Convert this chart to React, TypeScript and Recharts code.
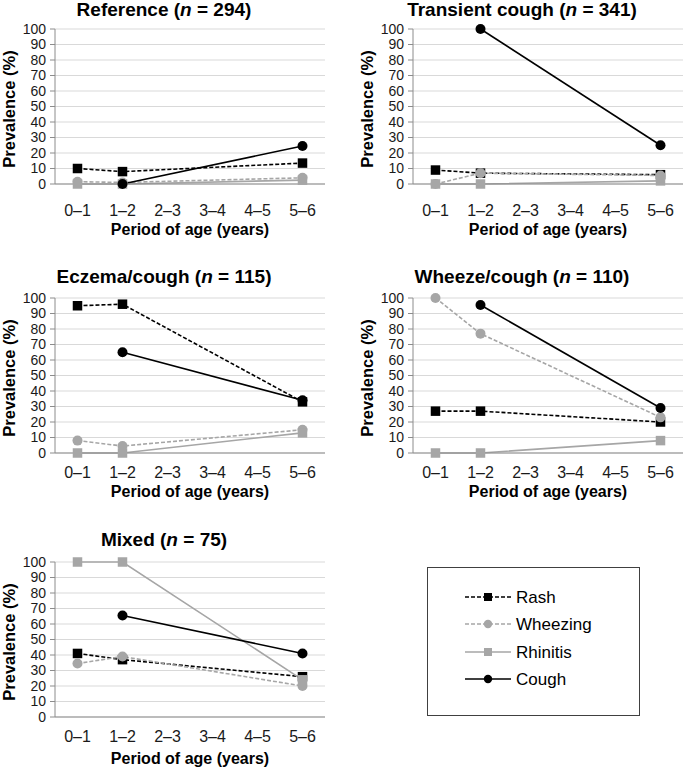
import React from 'react';
import { LineChart, Line, XAxis, YAxis, CartesianGrid } from 'recharts';

const categories = ['0–1', '1–2', '2–3', '3–4', '4–5', '5–6'];
const yTicks = [0, 10, 20, 30, 40, 50, 60, 70, 80, 90, 100];
const seriesNames = ['Rash', 'Wheezing', 'Rhinitis', 'Cough'];

const panelTitles = ['Reference', 'Transient cough', 'Eczema/cough', 'Wheeze/cough', 'Mixed'];
const panelN = [294, 341, 115, 110, 75];

const referenceRash = [10, 8, null, null, null, 13.5];
const referenceWheezing = [1.5, 1, null, null, null, 4];
const referenceRhinitis = [0, 0, null, null, null, 2.5];
const referenceCough = [null, 0, null, null, null, 24.5];

const transientRash = [9, 7, null, null, null, 6];
const transientWheezing = [0, 7, null, null, null, 5.5];
const transientRhinitis = [0, 0, null, null, null, 2];
const transientCough = [null, 100, null, null, null, 25];

const eczemaRash = [95, 96, null, null, null, 33];
const eczemaWheezing = [8, 4.5, null, null, null, 15];
const eczemaRhinitis = [0, 0, null, null, null, 13];
const eczemaCough = [null, 65, null, null, null, 34];

const wheezeRash = [27, 27, null, null, null, 20];
const wheezeWheezing = [100, 77, null, null, null, 23];
const wheezeRhinitis = [0, 0, null, null, null, 8];
const wheezeCough = [null, 95.5, null, null, null, 29];

const mixedRash = [41, 37, null, null, null, 26];
const mixedWheezing = [34.5, 39, null, null, null, 20];
const mixedRhinitis = [100, 100, null, null, null, 24];
const mixedCough = [null, 65.5, null, null, null, 41];

const BLACK = '#000000';
const GRAY = '#a6a6a6';
const AXIS = '#8c8c8c';
const GRID = '#d9d9d9';
const FONT = '"Liberation Sans", Arial, sans-serif';

const seriesStyles = [
  { key: 'rash', color: BLACK, dash: '4 2', shape: 'square' },
  { key: 'wheezing', color: GRAY, dash: '4 2', shape: 'circle' },
  { key: 'rhinitis', color: GRAY, dash: undefined, shape: 'square' },
  { key: 'cough', color: BLACK, dash: undefined, shape: 'circle' },
];

const makeDot = (color: string, shape: string) => (props: any) => {
  const { cx, cy, value, index } = props;
  if (cx == null || cy == null || value == null || Number.isNaN(cy)) {
    return <g key={`e${index}`} />;
  }
  if (shape === 'square') {
    return <rect key={`d${index}`} x={cx - 4.75} y={cy - 4.75} width={9.5} height={9.5} fill={color} />;
  }
  return <circle key={`d${index}`} cx={cx} cy={cy} r={5} fill={color} />;
};

type PanelProps = {
  idx: number;
  series: (number | null)[][];
  left: number;
  top: number;
  width: number;
  rightMargin: number;
  titleTop: number;
  xTickMargin: number;
  xTitleOffset: number;
};

const PLOT_TOP = 29;
const PLOT_H = 155;
const AXIS_W = 55;

function Panel({ idx, series, left, top, width, rightMargin, titleTop, xTickMargin, xTitleOffset }: PanelProps) {
  const data = categories.map((c, i) => ({
    x: i + 0.5,
    rash: series[0][i],
    wheezing: series[1][i],
    rhinitis: series[2][i],
    cough: series[3][i],
  }));
  const height = 237;
  const plotW = width - AXIS_W - rightMargin;
  return (
    <div style={{ position: 'absolute', left, top, width, height }}>
      <div
        style={{
          position: 'absolute',
          left: 164 - 160,
          width: 320,
          top: titleTop,
          textAlign: 'center',
          fontWeight: 'bold',
          fontSize: 19,
          lineHeight: '19px',
          whiteSpace: 'nowrap',
          color: '#000',
        }}
      >
        {panelTitles[idx]} (<i>n</i> = {panelN[idx]})
      </div>
      <div
        style={{
          position: 'absolute',
          left: 9,
          top: PLOT_TOP + PLOT_H / 2 + 2,
          transform: 'translate(-50%, -50%) rotate(-90deg)',
          fontWeight: 'bold',
          fontSize: 16.5,
          lineHeight: '16.5px',
          whiteSpace: 'nowrap',
          color: '#000',
        }}
      >
        Prevalence (%)
      </div>
      <div
        style={{
          position: 'absolute',
          left: AXIS_W + plotW / 2 - 150,
          width: 300,
          top: PLOT_TOP + PLOT_H + xTitleOffset,
          textAlign: 'center',
          fontWeight: 'bold',
          fontSize: 16,
          lineHeight: '16px',
          whiteSpace: 'nowrap',
          color: '#000',
        }}
      >
        Period of age (years)
      </div>
      <LineChart
        width={width}
        height={height}
        data={data}
        margin={{ top: PLOT_TOP, right: rightMargin, left: 0, bottom: height - PLOT_TOP - PLOT_H - 30 }}
      >
        <CartesianGrid vertical={false} stroke={GRID} />
        <XAxis
          xAxisId="b"
          type="number"
          dataKey="x"
          domain={[0, 6]}
          ticks={[0, 1, 2, 3, 4, 5, 6]}
          interval={0}
          mirror
          height={0}
          tick={false}
          axisLine={false}
          tickLine={{ stroke: AXIS }}
          tickSize={5}
          allowDataOverflow
        />
        <XAxis
          type="number"
          dataKey="x"
          domain={[0, 6]}
          ticks={[0.5, 1.5, 2.5, 3.5, 4.5, 5.5]}
          interval={0}
          tickFormatter={(v: number) => categories[Math.floor(v)]}
          tickLine={false}
          axisLine={{ stroke: AXIS }}
          tickSize={6}
          tickMargin={xTickMargin}
          height={30}
          tick={{ fontSize: 16, fill: '#1a1a1a' }}
          allowDataOverflow
        />
        <YAxis
          type="number"
          domain={[0, 100]}
          ticks={yTicks}
          interval={0}
          width={AXIS_W}
          tickSize={5}
          tickMargin={4}
          axisLine={{ stroke: AXIS }}
          tickLine={{ stroke: AXIS }}
          tick={{ fontSize: 14, fill: '#1a1a1a' }}
        />
        {seriesStyles.map((s, si) => (
          <Line
            key={s.key}
            dataKey={s.key}
            name={seriesNames[si]}
            stroke={s.color}
            strokeWidth={1.6}
            strokeDasharray={s.dash}
            dot={makeDot(s.color, s.shape)}
            activeDot={false}
            connectNulls
            isAnimationActive={false}
          />
        ))}
      </LineChart>
    </div>
  );
}

function LegendBox() {
  const rowsY = [29, 56, 84, 111];
  return (
    <div
      style={{
        position: 'absolute',
        left: 427,
        top: 567,
        width: 213,
        height: 149,
        border: '1.5px solid #404040',
        boxSizing: 'border-box',
      }}
    >
      <svg width={210} height={146} style={{ position: 'absolute', left: 0, top: 0 }}>
        {seriesStyles.map((s, i) => (
          <g key={s.key}>
            <line
              x1={37}
              x2={83}
              y1={rowsY[i]}
              y2={rowsY[i]}
              stroke={s.color}
              strokeWidth={1.5}
              strokeDasharray={s.dash}
            />
            {s.shape === 'square' ? (
              <rect x={60 - 4} y={rowsY[i] - 4} width={8} height={8} fill={s.color} />
            ) : (
              <circle cx={60} cy={rowsY[i]} r={4.2} fill={s.color} />
            )}
            <text
              x={88}
              y={rowsY[i]}
              dominantBaseline="central"
              fontSize={17}
              fill="#000"
              style={{ fontFamily: FONT }}
            >
              {seriesNames[i]}
            </text>
          </g>
        ))}
      </svg>
    </div>
  );
}

export default function App() {
  return (
    <div
      style={{
        position: 'absolute',
        left: 0,
        top: 0,
        width: 685,
        height: 770,
        background: '#fff',
        fontFamily: FONT,
        overflow: 'hidden',
      }}
    >
      <Panel
        idx={0}
        series={[referenceRash, referenceWheezing, referenceRhinitis, referenceCough]}
        left={0}
        top={0}
        width={340}
        rightMargin={15}
        titleTop={0}
        xTickMargin={15}
        xTitleOffset={38}
      />
      <Panel
        idx={1}
        series={[transientRash, transientWheezing, transientRhinitis, transientCough]}
        left={358}
        top={0}
        width={327}
        rightMargin={2}
        titleTop={0}
        xTickMargin={15}
        xTitleOffset={38}
      />
      <Panel
        idx={2}
        series={[eczemaRash, eczemaWheezing, eczemaRhinitis, eczemaCough]}
        left={0}
        top={269}
        width={340}
        rightMargin={15}
        titleTop={-2.5}
        xTickMargin={8}
        xTitleOffset={31}
      />
      <Panel
        idx={3}
        series={[wheezeRash, wheezeWheezing, wheezeRhinitis, wheezeCough]}
        left={358}
        top={269}
        width={327}
        rightMargin={2}
        titleTop={-2.5}
        xTickMargin={8}
        xTitleOffset={31}
      />
      <Panel
        idx={4}
        series={[mixedRash, mixedWheezing, mixedRhinitis, mixedCough]}
        left={0}
        top={533}
        width={340}
        rightMargin={15}
        titleTop={-3}
        xTickMargin={8}
        xTitleOffset={34}
      />
      <LegendBox />
    </div>
  );
}
